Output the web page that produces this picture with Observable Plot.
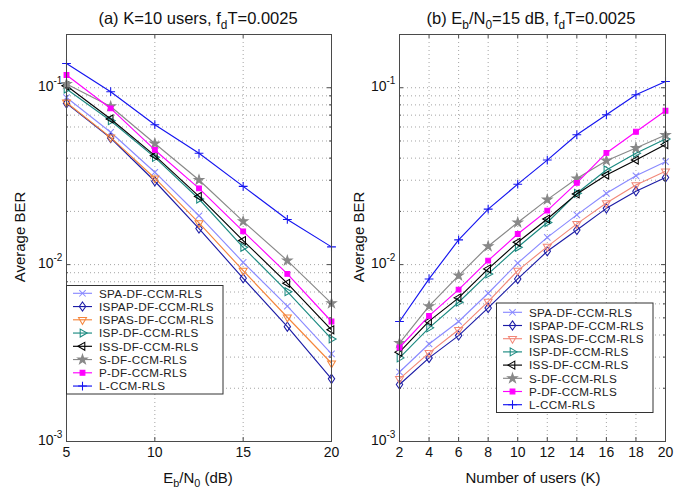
<!DOCTYPE html>
<html><head><meta charset="utf-8">
<script src="https://cdn.jsdelivr.net/npm/d3@7"></script>
<script src="https://cdn.jsdelivr.net/npm/@observablehq/plot@0.6"></script>
<style>
body{margin:0;background:#fff;font-family:"Liberation Sans",Arial,sans-serif;}
#wrap{position:relative;width:684px;height:491px;overflow:hidden;background:#fff;}
#wrap svg{position:absolute;top:0;}
.lbl{position:absolute;color:#111;white-space:nowrap;line-height:1;}
.lbl sub{font-size:0.72em;vertical-align:-0.4em;line-height:0;}
</style></head><body><div id="wrap"></div>
<script>
// ---------- data ----------
const names = ["SPA-DF-CCM-RLS","ISPAP-DF-CCM-RLS","ISPAS-DF-CCM-RLS","ISP-DF-CCM-RLS","ISS-DF-CCM-RLS","S-DF-CCM-RLS","P-DF-CCM-RLS","L-CCM-RLS"];
const snr = [5, 7.5, 10, 12.5, 15, 17.5, 20];
const users = [2, 4, 6, 8, 10, 12, 14, 16, 18, 20];

// (a) BER vs Eb/N0, K = 10
const snrSPA   = [0.0881, 0.056, 0.0333, 0.0189, 0.0103, 0.00582, 0.00313];
const snrISPAP = [0.0816, 0.052, 0.0296, 0.0160, 0.00837, 0.00446, 0.00226];
const snrISPAS = [0.0826, 0.0524, 0.0308, 0.0172, 0.00925, 0.00504, 0.00277];
const snrISP   = [0.0983, 0.0651, 0.0404, 0.0235, 0.01253, 0.00703, 0.0038];
const snrISS   = [0.1026, 0.0666, 0.0413, 0.0243, 0.01368, 0.00784, 0.00428];
const snrS     = [0.105, 0.0784, 0.0484, 0.0301, 0.01757, 0.01054, 0.00604];
const snrP     = [0.118, 0.0764, 0.0445, 0.0270, 0.01542, 0.00886, 0.00477];
const snrL     = [0.137, 0.095, 0.0618, 0.0426, 0.0277, 0.0180, 0.0126];

// (b) BER vs number of users, Eb/N0 = 15 dB
const usrSPA   = [0.00247, 0.00356, 0.00477, 0.00689, 0.0102, 0.01426, 0.0191, 0.0253, 0.0318, 0.0382];
const usrISPAP = [0.0021, 0.00297, 0.00397, 0.00569, 0.0083, 0.0119, 0.0157, 0.0208, 0.026, 0.0311];
const usrISPAS = [0.00226, 0.00317, 0.00428, 0.00618, 0.00925, 0.01264, 0.017, 0.0223, 0.0282, 0.0337];
const usrISP   = [0.00297, 0.00439, 0.00613, 0.00886, 0.01253, 0.0173, 0.0253, 0.0343, 0.0426, 0.0513];
const usrISS   = [0.0032, 0.00479, 0.00649, 0.00946, 0.01337, 0.0181, 0.0251, 0.0321, 0.039, 0.0477];
const usrS     = [0.0036, 0.00582, 0.00867, 0.0127, 0.0173, 0.0233, 0.0307, 0.0387, 0.0456, 0.054];
const usrP     = [0.0034, 0.00513, 0.00722, 0.01054, 0.0149, 0.0202, 0.029, 0.0428, 0.0564, 0.0741];
const usrL     = [0.00477, 0.0083, 0.0138, 0.0206, 0.0285, 0.039, 0.0542, 0.0703, 0.0913, 0.1085];

const xTicksA = [5, 10, 15, 20];
const xTicksB = [2, 4, 6, 8, 10, 12, 14, 16, 18, 20];
const yDecades = [0.001, 0.01, 0.1];
const yMinor = [0.002,0.003,0.004,0.005,0.006,0.007,0.008,0.009,0.02,0.03,0.04,0.05,0.06,0.07,0.08,0.09];
const yDomain = [0.001, 0.2];

// ---------- styles ----------
const colorsA = ["#8a8aff","#1c1ca6","#f5863c","#1b8a80","#000000","#888888","#ff00ff","#1414f0"];
const colorsB = ["#8a8aff","#1c1ca6","#f28878","#1b8a80","#000000","#888888","#ff00ff","#1414f0"];
const markerKinds = ["times","diamond","triDown","triRight","triLeft","star","square","plus"];
const filled = [false,false,false,false,false,true,true,false];

const tri = a => ({draw(c, s){const r = Math.sqrt(s/Math.PI)*1.15; for (let i=0;i<3;i++){const t=a+i*2*Math.PI/3; const x=r*Math.cos(t), y=r*Math.sin(t); if(i) c.lineTo(x,y); else c.moveTo(x,y);} c.closePath();}});
const symbols = {
  times: {draw(c,s){const r=Math.sqrt(s/Math.PI)*0.8; c.moveTo(-r,-r);c.lineTo(r,r);c.moveTo(r,-r);c.lineTo(-r,r);}},
  plus: {draw(c,s){const r=Math.sqrt(s/Math.PI)*1.1; c.moveTo(-r,0);c.lineTo(r,0);c.moveTo(0,-r);c.lineTo(0,r);}},
  diamond: {draw(c,s){const r=Math.sqrt(s/Math.PI); c.moveTo(0,-r*1.15);c.lineTo(r*0.8,0);c.lineTo(0,r*1.15);c.lineTo(-r*0.8,0);c.closePath();}},
  triDown: tri(Math.PI/2), triRight: tri(0), triLeft: tri(Math.PI),
  star: {draw(c,s){d3.symbolStar.draw(c, s*0.42);}},
  square: {draw(c,s){const r=Math.sqrt(s/Math.PI)*0.6; c.moveTo(-r,-r);c.lineTo(r,-r);c.lineTo(r,r);c.lineTo(-r,r);c.closePath();}}
};

const W = 342, H = 491, MT = 34, MB = 50;
const font = "'Liberation Sans', Arial, sans-serif";
const gridColor = "#9a9a9a";
const axisColor = "#4a4a4a";

function panel({xs, series, colors, xDomain, xTicks, ml, mr}) {
  const plotW = W - ml - mr, plotH = H - MT - MB;
  const marks = [
    Plot.ruleY(yMinor.concat(yDecades), {y: d => d, stroke: gridColor, strokeDasharray: "1,3", strokeWidth: 0.9}),
    Plot.ruleX(xTicks, {x: d => d, stroke: gridColor, strokeDasharray: "1,3", strokeWidth: 0.9}),
  ];
  series.forEach((vals, i) => {
    const rows = vals.map((v, j) => ({x: xs[j], y: v}));
    marks.push(Plot.line(rows, {x: "x", y: "y", stroke: colors[i], strokeWidth: 1.15}));
    marks.push(Plot.dot(rows, {x: "x", y: "y", symbol: symbols[markerKinds[i]], r: markerKinds[i] === "star" ? 4.6 : 4,
      stroke: colors[i], fill: filled[i] ? colors[i] : "none", strokeWidth: 1.05}));
  });
  marks.push(
    Plot.frame({stroke: axisColor, strokeWidth: 1}),
    // inward tick marks
    Plot.tickX(xTicks, {x: d => d, insetTop: plotH - 4, stroke: axisColor}),
    Plot.tickX(xTicks, {x: d => d, insetBottom: plotH - 4, stroke: axisColor}),
    Plot.tickY(yDecades, {y: d => d, insetRight: plotW - 4, stroke: axisColor}),
    Plot.tickY(yDecades, {y: d => d, insetLeft: plotW - 4, stroke: axisColor}),
    Plot.tickY(yMinor, {y: d => d, insetRight: plotW - 2, stroke: axisColor}),
    Plot.tickY(yMinor, {y: d => d, insetLeft: plotW - 2, stroke: axisColor}),
    // tick labels
    Plot.text(xTicks, {x: d => d, frameAnchor: "bottom", dy: 15, text: d => String(d), fontSize: 14, fill: "#111"}),
    Plot.text(yDecades, {y: d => d, frameAnchor: "left", dx: -13, dy: -1, text: () => "10", textAnchor: "end", fontSize: 14, fill: "#111"}),
    Plot.text(yDecades, {y: d => d, frameAnchor: "left", dx: -13, dy: -7, text: d => String(Math.round(Math.log10(d))), textAnchor: "start", fontSize: 10, fill: "#111"})
  );
  return Plot.plot({
    width: W, height: H, marginLeft: ml, marginRight: mr, marginTop: MT, marginBottom: MB,
    x: {domain: xDomain, axis: null},
    y: {type: "log", domain: yDomain, axis: null},
    style: {fontFamily: font, background: "transparent", overflow: "visible"},
    marks
  });
}

const wrap = document.getElementById("wrap");
const svgA = panel({xs: snr, series: [snrSPA, snrISPAP, snrISPAS, snrISP, snrISS, snrS, snrP, snrL], colors: colorsA,
  xDomain: [5, 20], xTicks: xTicksA, ml: 66, mr: 11});
svgA.style.left = "0px";
wrap.appendChild(svgA);
const svgB = panel({xs: users, series: [usrSPA, usrISPAP, usrISPAS, usrISP, usrISS, usrS, usrP, usrL], colors: colorsB,
  xDomain: [2, 20], xTicks: xTicksB, ml: 57, mr: 19});
svgB.style.left = "342px";
wrap.appendChild(svgB);

// ---------- text labels ----------
function label(html, x, y, size, rotate) {
  const d = document.createElement("div");
  d.className = "lbl";
  d.innerHTML = html;
  d.style.left = x + "px"; d.style.top = y + "px"; d.style.fontSize = size + "px";
  d.style.transform = "translate(-50%,-50%)" + (rotate ? " rotate(-90deg)" : "");
  wrap.appendChild(d);
}
label("(a) K=10 users, f<sub>d</sub>T=0.0025", 198, 18, 16.5);
label("(b) E<sub>b</sub>/N<sub>0</sub>=15 dB, f<sub>d</sub>T=0.0025", 531, 18, 16.5);
label("Average BER", 19, 237, 15, true);
label("Average BER", 358, 237, 15, true);
label("E<sub>b</sub>/N<sub>0</sub> (dB)", 198, 477, 15);
label("Number of users (K)", 533, 477, 15);

// ---------- legends ----------
const ov = d3.select(wrap).append("svg").attr("width", 684).attr("height", 491).style("left", "0px").style("pointer-events", "none");
function legend(x0, y0, w, h, firstY, step, colors) {
  const g = ov.append("g");
  g.append("rect").attr("x", x0).attr("y", y0).attr("width", w).attr("height", h).attr("fill", "white").attr("stroke", "#333").attr("stroke-width", 1);
  names.forEach((n, i) => {
    const y = firstY + i * step;
    g.append("line").attr("x1", x0 + 6.5).attr("x2", x0 + 25.5).attr("y1", y).attr("y2", y).attr("stroke", colors[i]).attr("stroke-width", 1.15);
    const sz = (markerKinds[i] === "star" ? 4.6 : 4) ** 2 * Math.PI;
    g.append("path").attr("d", d3.symbol(symbols[markerKinds[i]], sz)()).attr("transform", `translate(${x0 + 16},${y})`)
      .attr("stroke", colors[i]).attr("fill", filled[i] ? colors[i] : "none").attr("stroke-width", 1.05);
    g.append("text").attr("x", x0 + 32.5).attr("y", y).attr("dy", "0.36em").attr("font-family", font).attr("font-size", 11.7)
      .attr("letter-spacing", "0.3px").attr("fill", "#222").text(n);
  });
}
legend(66.5, 285.5, 156.5, 108.5, 293.3, 13.25, colorsA);
legend(496.5, 303, 156.5, 109.5, 312.3, 13.2, colorsB);
</script></body></html>
